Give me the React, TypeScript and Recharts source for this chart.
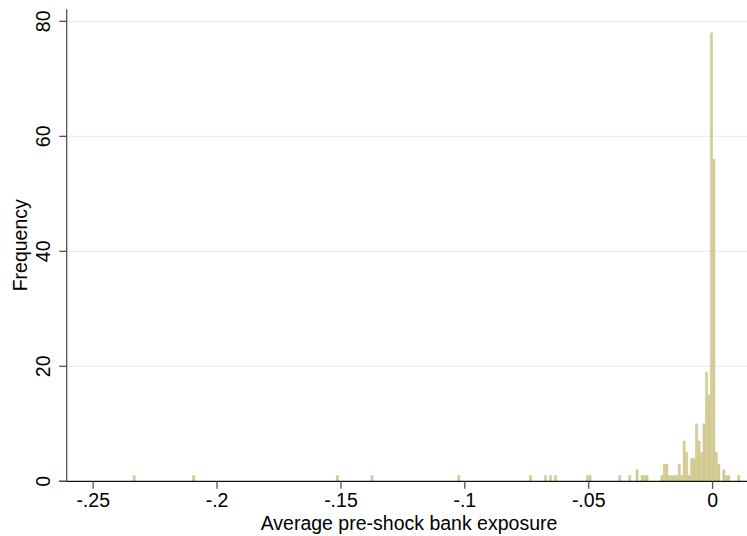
import { Bar, BarChart, CartesianGrid, Label, ReferenceLine, XAxis, YAxis } from "recharts";

// histogram bins (width .001), centres and counts
const binCenters = [
    -0.2334, -0.2094, -0.1514, -0.1374, -0.1024, -0.0734, -0.0674, -0.0654, -0.0634,
    -0.0504, -0.0494, -0.0374, -0.0334, -0.0304, -0.0284, -0.0274, -0.0264, -0.0204,
    -0.0194, -0.0184, -0.0174, -0.0164, -0.0154, -0.0144, -0.0134, -0.0124, -0.0114,
    -0.0104, -0.0094, -0.0084, -0.0074, -0.0064, -0.0054, -0.0044, -0.0034, -0.0024,
    -0.0014, -0.0004, 0.0006, 0.0016, 0.0026, 0.0046, 0.0056, 0.0066, 0.0106,
];
const frequencies = [
    1, 1, 1, 1, 1, 1, 1, 1, 1,
    1, 1, 1, 1, 2, 1, 1, 1, 1,
    3, 3, 1, 1, 1, 1, 3, 1, 7,
    5, 1, 4, 4, 10, 7, 5, 10, 19,
    15, 78, 56, 5, 3, 2, 1, 1, 1,
];

const xTicks = [-0.25, -0.2, -0.15, -0.1, -0.05, 0];
const yTicks = [0, 20, 40, 60, 80];
const gridValues = [20, 40, 60, 80];
const xDomain = [-0.2638, 0.0139];
const yDomain = [0, 82.1];
const yAxisPos = -0.2607; // where the y axis line sits

const data = binCenters.map((x, i) => ({ x, freq: frequencies[i] }));

const font = "'Liberation Sans', Arial, sans-serif";
const fontSize = 19.5;

function fmtX(v: number) {
    if (v === 0) return "0";
    return String(v).replace("0.", ".");
}

function XTick(props: any) {
    const { x, y, payload } = props;
    return (
        <g>
            <line x1={x} x2={x} y1={y} y2={y + 7.5} stroke="#555" strokeWidth={1.3} />
            <text x={x} y={y + 25.7} textAnchor="middle" fontSize={fontSize} fontFamily={font} fill="#000">
                {fmtX(payload.value)}
            </text>
        </g>
    );
}

function YTick(props: any) {
    const { x, y, payload } = props;
    return (
        <g>
            <line x1={x + 0.3} x2={x + 7.7} y1={y} y2={y} stroke="#555" strokeWidth={1.3} />
            <text
                transform={`translate(${x - 9}, ${y}) rotate(-90)`}
                textAnchor="middle"
                fontSize={fontSize}
                fontFamily={font}
                fill="#000"
            >
                {payload.value}
            </text>
        </g>
    );
}

export default function App() {
    return (
        <div style={{ position: "absolute", left: 0, top: 0, background: "#fff" }}>
            <BarChart
                width={747}
                height={536}
                data={data}
                margin={{ top: 9.3, right: 0, bottom: 0, left: 0 }}
                barCategoryGap={0}
                barGap={0}
            >
                <CartesianGrid
                    vertical={false}
                    horizontalValues={gridValues}
                    stroke="#e8eef0"
                    strokeWidth={1.3}
                />
                <XAxis
                    dataKey="x"
                    type="number"
                    domain={xDomain}
                    allowDataOverflow
                    ticks={xTicks}
                    interval={0}
                    height={54.7}
                    tickSize={0}
                    tickMargin={0}
                    tick={<XTick />}
                    axisLine={{ stroke: "#111", strokeWidth: 1.2 }}
                    tickLine={false}
                >
                    <Label
                        content={(p: any) => {
                            const vb = p.viewBox;
                            return (
                                <text
                                    x={vb.x + vb.width / 2 + 6}
                                    y={vb.y + 48.2}
                                    textAnchor="middle"
                                    fontSize={fontSize}
                                    fontFamily={font}
                                    fill="#000"
                                >
                                    Average pre-shock bank exposure
                                </text>
                            );
                        }}
                    />
                </XAxis>
                <YAxis
                    type="number"
                    domain={yDomain}
                    ticks={yTicks}
                    interval={0}
                    width={59}
                    tickSize={0}
                    tickMargin={0}
                    tick={<YTick />}
                    axisLine={false}
                    tickLine={false}
                >
                    <Label
                        content={(p: any) => {
                            const vb = p.viewBox;
                            const cy = vb.y + vb.height / 2;
                            return (
                                <text
                                    transform={`translate(27.3, ${cy}) rotate(-90)`}
                                    textAnchor="middle"
                                    fontSize={fontSize}
                                    fontFamily={font}
                                    fill="#000"
                                >
                                    Frequency
                                </text>
                            );
                        }}
                    />
                </YAxis>
                <ReferenceLine x={yAxisPos} stroke="#555" strokeWidth={1.3} />
                <Bar
                    dataKey="freq"
                    barSize={2.48}
                    fill="#d5cd95"
                    stroke="#c6be80"
                    strokeWidth={0.4}
                    isAnimationActive={false}
                />
            </BarChart>
        </div>
    );
}
